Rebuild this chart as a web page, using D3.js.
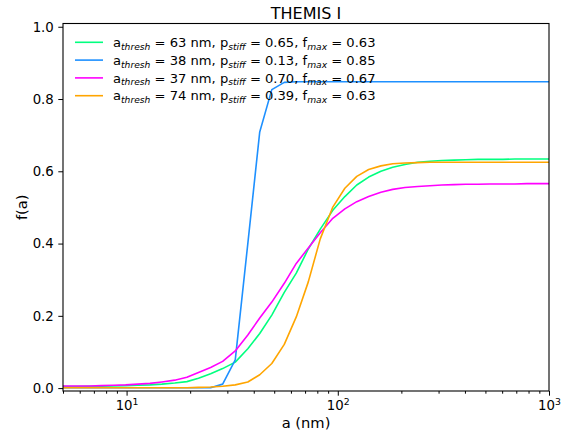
<!DOCTYPE html>
<html>
<head>
<meta charset="utf-8">
<script src="https://cdn.jsdelivr.net/npm/d3@7"></script>
<style>
  body { margin: 0; background: #fff; }
  svg { display: block; font-family: "DejaVu Sans", sans-serif; }
</style>
</head>
<body>
<div id="chart"></div>
<script>
// grain size grid (nm)
const aNm = [5, 5.8, 6.7, 7.6, 8.7, 9.9, 11.3, 12.9, 14.7, 16.9, 19.3, 21.9, 25, 28.5, 32.7,
  37.5, 42.7, 48.7, 55.8, 63.6, 72.5, 82.6, 94.7, 108, 123, 140, 160, 182, 208, 239, 273,
  311, 355, 404, 461, 525, 605, 690, 786, 897, 1000];

const fGreen = [0.004, 0.004, 0.005, 0.005, 0.006, 0.007, 0.008, 0.009, 0.011, 0.014, 0.018,
  0.027, 0.040, 0.054, 0.072, 0.109, 0.151, 0.202, 0.265, 0.318, 0.385, 0.440, 0.492, 0.530,
  0.562, 0.584, 0.600, 0.611, 0.619, 0.625, 0.628, 0.630, 0.631, 0.632, 0.633, 0.633, 0.633,
  0.634, 0.634, 0.634, 0.634];
const fBlue = [0.001, 0.001, 0.001, 0.001, 0.001, 0.001, 0.001, 0.001, 0.001, 0.001, 0.001,
  0.001, 0.001, 0.011, 0.078, 0.400, 0.709, 0.826, 0.846, 0.848, 0.848, 0.848, 0.848, 0.848,
  0.848, 0.848, 0.848, 0.848, 0.848, 0.848, 0.848, 0.848, 0.848, 0.848, 0.848, 0.848, 0.848,
  0.848, 0.848, 0.848, 0.848];
const fMagenta = [0.006, 0.006, 0.006, 0.007, 0.008, 0.009, 0.011, 0.013, 0.017, 0.022, 0.030,
  0.043, 0.057, 0.074, 0.103, 0.147, 0.194, 0.238, 0.290, 0.345, 0.388, 0.430, 0.470, 0.496,
  0.516, 0.530, 0.542, 0.550, 0.555, 0.558, 0.560, 0.562, 0.563, 0.564, 0.564, 0.565, 0.565,
  0.565, 0.566, 0.566, 0.566];
const fOrange = [0.001, 0.001, 0.001, 0.001, 0.001, 0.001, 0.001, 0.001, 0.001, 0.001, 0.001,
  0.002, 0.003, 0.005, 0.009, 0.017, 0.037, 0.068, 0.121, 0.197, 0.294, 0.413, 0.501, 0.553,
  0.586, 0.605, 0.615, 0.621, 0.623, 0.624, 0.625, 0.625, 0.625, 0.625, 0.625, 0.625, 0.625,
  0.625, 0.625, 0.625, 0.625];

// legend parameters
const aThresh = [63, 38, 37, 74];
const pStiff = ["0.65", "0.13", "0.70", "0.39"];
const fMax = ["0.63", "0.85", "0.67", "0.63"];
const colors = ["#00ff7f", "#1e90ff", "#ff00ff", "#ffa500"];

const xMajor = [10, 100, 1000];
const xMajorExp = ["1", "2", "3"];
const xMinor = [5, 6, 7, 8, 9, 20, 30, 40, 50, 60, 70, 80, 90, 200, 300, 400, 500, 600, 700, 800, 900];
const yTicks = [0, 0.2, 0.4, 0.6, 0.8, 1.0];

const series = [fGreen, fBlue, fMagenta, fOrange];

const width = 576, height = 434;
const margin = { left: 63, right: 27, top: 23.5, bottom: 43 };
const fs = 13.3;

const x = d3.scaleLog().domain([5, 1000]).range([margin.left, width - margin.right]);
const y = d3.scaleLinear().domain([-0.008, 1.009]).range([height - margin.bottom, margin.top]);

const svg = d3.select("#chart").append("svg")
    .attr("width", width)
    .attr("height", height);

svg.append("defs").append("clipPath").attr("id", "plot-clip")
  .append("rect")
    .attr("x", margin.left).attr("y", margin.top)
    .attr("width", width - margin.left - margin.right)
    .attr("height", height - margin.top - margin.bottom);

// curves
const line = d3.line().x((d, i) => x(aNm[i])).y(d => y(d));
svg.append("g").attr("clip-path", "url(#plot-clip)")
  .selectAll("path")
  .data(series)
  .join("path")
    .attr("fill", "none")
    .attr("stroke", (d, i) => colors[i])
    .attr("stroke-width", 1.6)
    .attr("stroke-linejoin", "round")
    .attr("d", line);

// x axis
const xAxis = svg.append("g")
    .attr("transform", `translate(0,${height - margin.bottom})`)
    .call(d3.axisBottom(x).tickValues(xMajor).tickSize(4.7).tickPadding(4.5).tickFormat(""));
xAxis.selectAll(".tick text")
    .attr("font-size", fs)
    .attr("fill", "#000")
    .attr("font-family", "DejaVu Sans")
    .each(function (d, i) {
      const t = d3.select(this);
      t.append("tspan").text("10");
      t.append("tspan").attr("dy", "-0.45em").attr("font-size", fs * 0.7).text(xMajorExp[i]);
    });
svg.append("g")
    .attr("transform", `translate(0,${height - margin.bottom})`)
    .call(d3.axisBottom(x).tickValues(xMinor).tickSize(2.7).tickFormat(""))
    .call(g => g.select(".domain").remove());

// y axis
const yAxis = svg.append("g")
    .attr("transform", `translate(${margin.left},0)`)
    .call(d3.axisLeft(y).tickValues(yTicks).tickSize(4.7).tickPadding(4.5).tickFormat(d3.format(".1f")));
yAxis.selectAll("text").attr("font-size", fs).attr("font-family", "DejaVu Sans").attr("fill", "#000");

svg.selectAll(".tick line").attr("stroke", "#000").attr("stroke-width", 1);
svg.selectAll(".domain").remove();

// frame
svg.append("rect")
    .attr("x", margin.left).attr("y", margin.top)
    .attr("width", width - margin.left - margin.right)
    .attr("height", height - margin.top - margin.bottom)
    .attr("fill", "none")
    .attr("stroke", "#000")
    .attr("stroke-width", 1.1);

// labels
svg.append("text")
    .attr("x", (margin.left + width - margin.right) / 2)
    .attr("y", 18.5)
    .attr("text-anchor", "middle")
    .attr("font-size", 16)
    .text("THEMIS I");

svg.append("text")
    .attr("x", (margin.left + width - margin.right) / 2)
    .attr("y", 428)
    .attr("text-anchor", "middle")
    .attr("font-size", 14.7)
    .text("a (nm)");

svg.append("text")
    .attr("transform", `translate(27,${(margin.top + height - margin.bottom) / 2}) rotate(-90)`)
    .attr("text-anchor", "middle")
    .attr("font-size", 14.7)
    .text("f(a)");

// legend
const legend = svg.append("g");
const lfs = 13.1;
const subShift = 2.9;
const rowY = d => 42.3 + d * 17.8;
colors.forEach((c, i) => {
  legend.append("line")
      .attr("x1", 75).attr("x2", 103)
      .attr("y1", rowY(i)).attr("y2", rowY(i))
      .attr("stroke", c).attr("stroke-width", 1.6);
  const t = legend.append("text")
      .attr("x", 113).attr("y", rowY(i) + 4.6)
      .attr("font-size", lfs);
  const parts = [
    ["a", false], ["thresh", true], [` = ${aThresh[i]} nm, p`, false], ["stiff", true],
    [` = ${pStiff[i]}, f`, false], ["max", true], [` = ${fMax[i]}`, false]
  ];
  parts.forEach(([s, isSub], k) => {
    const ts = t.append("tspan").text(s);
    if (isSub) {
      ts.attr("dy", subShift).attr("font-size", lfs * 0.7).attr("font-style", "italic");
    } else if (k > 0) {
      ts.attr("dy", -subShift);
    }
  });
});
</script>
</body>
</html>
